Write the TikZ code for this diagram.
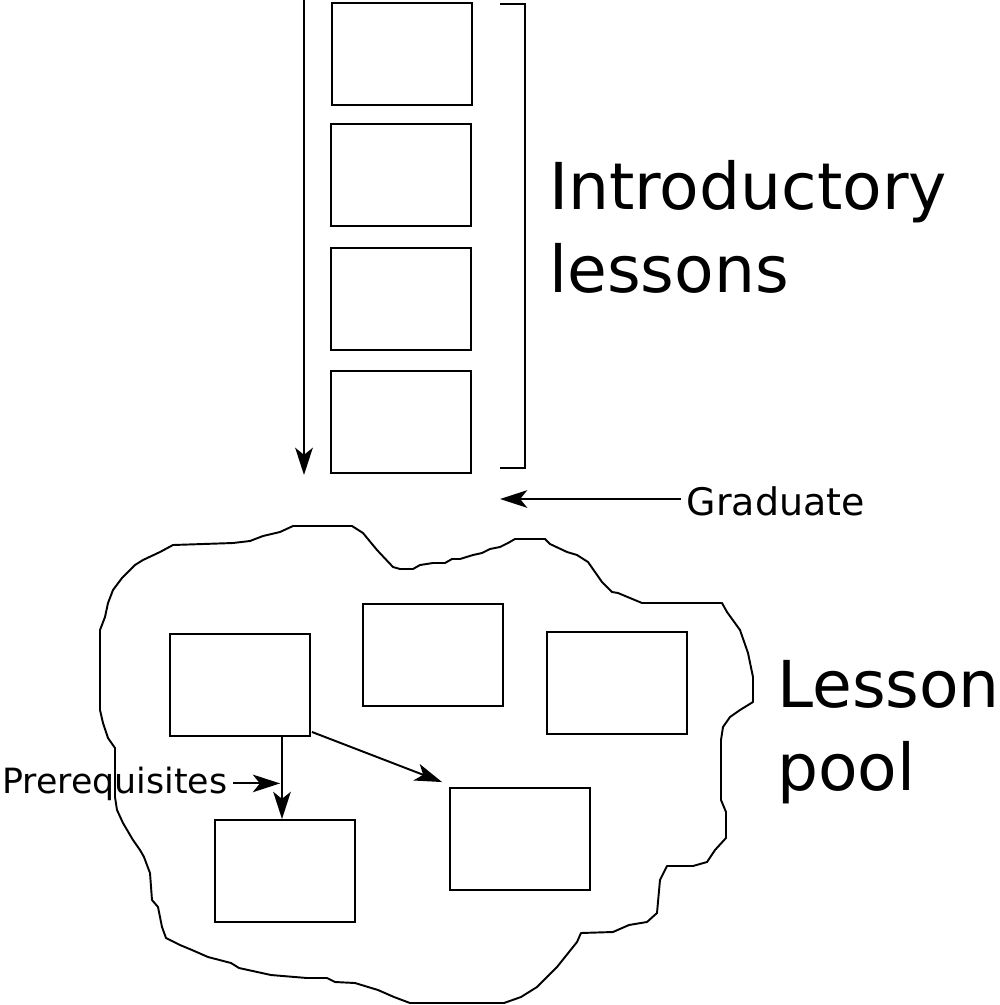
\documentclass[tikz,border=0pt]{standalone}
\usepackage{fontspec}
\setmainfont{DejaVu Sans}
\usetikzlibrary{arrows.meta,calc}
\tikzset{
  lesson/.style={
    rectangle,
    draw=black,
    line width=1.1pt,
    minimum width=2.8cm,
    minimum height=2.04cm,
    inner sep=0pt
  },
  link/.style={
    line width=1.1pt,
    -{Stealth[length=15.5pt,width=10pt,inset=4pt]}
  },
  poolline/.style={
    line width=1.1pt,
    line join=round
  },
  bracketline/.style={
    line width=1.1pt
  },
  bigtitle/.style={
    font=\fontsize{36.8}{47.2}\selectfont,
    align=left,
    inner sep=0pt
  },
  smallnote/.style={
    font=\fontsize{21.6}{26}\selectfont,
    inner sep=0pt
  }
}

\begin{document}
\begin{tikzpicture}[x=0.02cm, y=-0.02cm]
  \useasboundingbox (0,0) rectangle (1000,1005);
  % \draw[help lines, step=50] (0,0) grid (1000,1005);

  % ------------------------------------------------------------------
  % Introductory lessons (sequence)
  % ------------------------------------------------------------------
  \node[lesson] (i1) at (402,54) {};
  \node[lesson] (i2) at (401,175) {};
  \node[lesson] (i3) at (401,299) {};
  \node[lesson] (i4) at (401,422) {};

  \coordinate (seqtop) at (304,-2);
  \coordinate (seqend) at (304,475);
  \draw[link] (seqtop) -- (seqend);

  \draw[bracketline] (500,4) -| (525,468) -- (500,468);
  % base of a two-line node = last line
  \node[bigtitle, anchor=base west] (intro) at (549,292) {Introductory\\lessons};

  % Graduate
  \coordinate (gradtip) at (500,499);
  \node[smallnote, anchor=base west, inner xsep=3.4pt] (grad) at (680.6,515) {Graduate};
  \draw[link] (grad.west |- gradtip) -- (gradtip);

  % ------------------------------------------------------------------
  % Lesson pool
  % ------------------------------------------------------------------
  \draw[poolline] (100,710) -- (100,630) -- (105,617) -- (108,603) -- (113,590)
    -- (122,578) -- (135,565) -- (143,560) -- (160,552) -- (173,545)
    -- (203,544) -- (233,543) -- (250,541) -- (263,536) -- (280,532)
    -- (293,526) -- (352,526) -- (363,533) -- (377,550) -- (393,567)
    -- (400,569) -- (413,569) -- (420,565) -- (433,563) -- (445,563)
    -- (452,559) -- (460,559) -- (473,555) -- (482,553) -- (490,549)
    -- (500,547) -- (508,543) -- (515,539) -- (545,539) -- (550,544)
    -- (567,552) -- (577,555) -- (588,562) -- (595,572) -- (602,582)
    -- (612,592) -- (618,593) -- (630,598) -- (642,603) -- (722,603)
    -- (727,612) -- (740,630) -- (748,653) -- (753,677) -- (753,702)
    -- (740,710) -- (730,717) -- (723,727) -- (721,740) -- (721,800)
    -- (726,812) -- (726,838) -- (715,850) -- (707,862) -- (693,866)
    -- (667,866) -- (660,880) -- (657,913) -- (647,922) -- (629,925)
    -- (613,932) -- (581,933) -- (577,942) -- (557,967) -- (537,987)
    -- (521,997) -- (504,1003) -- (410,1003) -- (394,997) -- (378,990)
    -- (355,983) -- (335,982) -- (327,978) -- (307,978) -- (271,975)
    -- (239,968) -- (231,963) -- (208,957) -- (192,950) -- (180,945)
    -- (166,938) -- (162,927) -- (158,907) -- (152,900) -- (150,873)
    -- (144,857) -- (140,850) -- (133,840) -- (123,823) -- (117,810)
    -- (115,797) -- (115,748) -- (108,738) -- (103,723) -- cycle;

  \node[lesson] (pA) at (240,685) {};
  \node[lesson] (pB) at (433,655) {};
  \node[lesson] (pC) at (617,683) {};
  \node[lesson] (pD) at (285,871) {};
  \node[lesson] (pE) at (520,839) {};

  \draw[link] ([shift={(-3,0)}]pA.south -| pD.north) -- ([shift={(-3,0)}]pD.north);
  \draw[link] ([shift={(1,-5)}]pA.south east) -- ([shift={(-7,-5)}]pE.north west);

  % Prerequisites
  \node[smallnote, font=\fontsize{19.8}{24}\selectfont, anchor=base east, inner xsep=3pt]
    (prereq) at (233,793) {Prerequisites};
  \draw[link, shorten >=1.1pt] (prereq.east) -- ([shift={(-3,0)}]prereq.east -| pD.north);

  \node[bigtitle, anchor=base west] (pooltitle) at (777,790) {Lesson\\pool};
\end{tikzpicture}
\end{document}
